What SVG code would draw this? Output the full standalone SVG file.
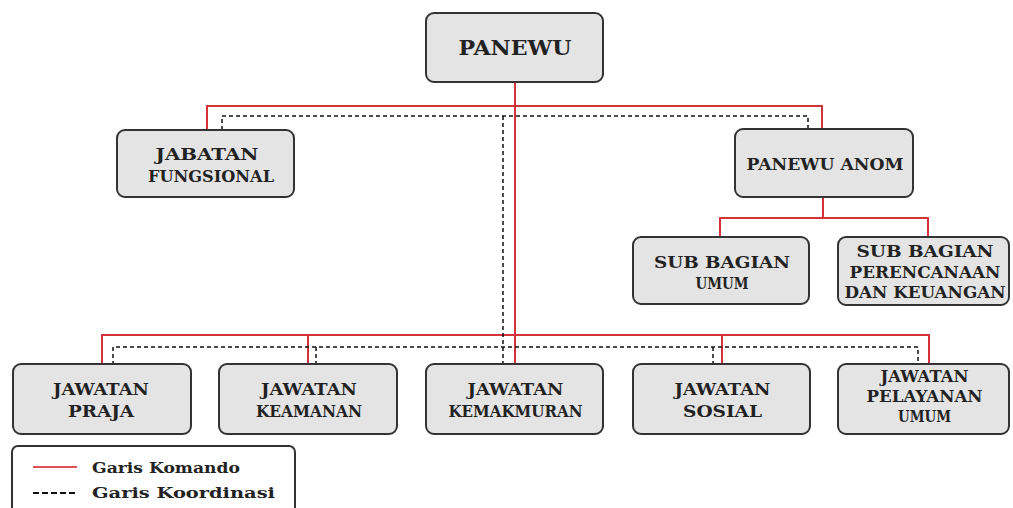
<svg xmlns="http://www.w3.org/2000/svg" width="1013" height="508" viewBox="0 0 1013 508">
<style>
.box{fill:#e4e4e4;stroke:#333;stroke-width:2}
.t{font-family:"DejaVu Serif","Liberation Serif",serif;font-weight:bold;font-size:16px;fill:#222;text-anchor:middle}
.big{font-family:"DejaVu Serif","Liberation Serif",serif;font-weight:bold;font-size:21px;fill:#222;text-anchor:middle}
.lg{font-family:"DejaVu Serif","Liberation Serif",serif;font-weight:bold;font-size:15px;fill:#222}
.cmd{stroke:#d3323b;stroke-width:2;fill:none}
.crd{stroke:#111;stroke-width:1.5;stroke-dasharray:4,3;fill:none}
</style>
<rect width="1013" height="508" fill="#fff"/>
<g id="connectors">
  <path class="cmd" d="M515 82V365M207 130V106H822V130M823 197V218M720 237V218H928V237M102 365V335H929V365M308 335V365M722 335V365"/>
  <path class="crd" d="M222 130V116H808V130M503 116V365M113 365V347H918V365M316 347V365M713 347V365"/>
</g>
<g id="panewu">
  <rect class="box" x="426" y="13" width="177" height="69" rx="8"/>
  <text class="big" x="515" y="55" textLength="113" lengthAdjust="spacingAndGlyphs">PANEWU</text>
</g>
<g id="jabatan-fungsional">
  <rect class="box" x="117" y="130" width="177" height="67" rx="8"/>
  <text class="t" x="207" y="160" textLength="103" lengthAdjust="spacingAndGlyphs">JABATAN</text>
  <text class="t" x="211" y="182" textLength="126" lengthAdjust="spacingAndGlyphs">FUNGSIONAL</text>
</g>
<g id="panewu-anom">
  <rect class="box" x="735" y="129" width="178" height="68" rx="8"/>
  <text class="t" x="825" y="170" textLength="157" lengthAdjust="spacingAndGlyphs">PANEWU  ANOM</text>
</g>
<g id="sub-bagian-umum">
  <rect class="box" x="633" y="237" width="176" height="67" rx="8"/>
  <text class="t" x="722" y="268" textLength="136" lengthAdjust="spacingAndGlyphs">SUB BAGIAN</text>
  <text class="t" x="722" y="289" textLength="53" lengthAdjust="spacingAndGlyphs">UMUM</text>
</g>
<g id="sub-bagian-perencanaan">
  <rect class="box" x="838" y="237" width="171" height="68" rx="8"/>
  <text class="t" x="925" y="257" textLength="137" lengthAdjust="spacingAndGlyphs">SUB BAGIAN</text>
  <text class="t" x="925" y="278" textLength="151" lengthAdjust="spacingAndGlyphs">PERENCANAAN</text>
  <text class="t" x="925" y="298" textLength="161" lengthAdjust="spacingAndGlyphs">DAN KEUANGAN</text>
</g>
<g id="jawatan-praja">
  <rect class="box" x="13" y="364" width="178" height="70" rx="8"/>
  <text class="t" x="101" y="395" textLength="96" lengthAdjust="spacingAndGlyphs">JAWATAN</text>
  <text class="t" x="101" y="417" textLength="66" lengthAdjust="spacingAndGlyphs">PRAJA</text>
</g>
<g id="jawatan-keamanan">
  <rect class="box" x="219" y="364" width="178" height="70" rx="8"/>
  <text class="t" x="309" y="395" textLength="96" lengthAdjust="spacingAndGlyphs">JAWATAN</text>
  <text class="t" x="309" y="417" textLength="106" lengthAdjust="spacingAndGlyphs">KEAMANAN</text>
</g>
<g id="jawatan-kemakmuran">
  <rect class="box" x="426" y="364" width="177" height="70" rx="8"/>
  <text class="t" x="515.5" y="395" textLength="96" lengthAdjust="spacingAndGlyphs">JAWATAN</text>
  <text class="t" x="515.5" y="417" textLength="134" lengthAdjust="spacingAndGlyphs">KEMAKMURAN</text>
</g>
<g id="jawatan-sosial">
  <rect class="box" x="633" y="364" width="177" height="70" rx="8"/>
  <text class="t" x="722.5" y="395" textLength="96" lengthAdjust="spacingAndGlyphs">JAWATAN</text>
  <text class="t" x="722.5" y="417" textLength="79" lengthAdjust="spacingAndGlyphs">SOSIAL</text>
</g>
<g id="jawatan-pelayanan-umum">
  <rect class="box" x="838" y="364" width="171" height="70" rx="8"/>
  <text class="t" x="924.5" y="382" textLength="88" lengthAdjust="spacingAndGlyphs">JAWATAN</text>
  <text class="t" x="924.5" y="402" textLength="116" lengthAdjust="spacingAndGlyphs">PELAYANAN</text>
  <text class="t" x="924.5" y="422" textLength="53" lengthAdjust="spacingAndGlyphs">UMUM</text>
</g>
<g id="legend">
  <rect class="box" x="12" y="446" width="283" height="72" rx="6" style="fill:#fff"/>
  <line x1="33" y1="467" x2="77" y2="467" stroke="#e0525a" stroke-width="2"/>
  <line x1="33" y1="493" x2="78" y2="493" stroke="#111" stroke-width="2" stroke-dasharray="6,3"/>
  <text class="lg" x="92" y="473" textLength="148" lengthAdjust="spacingAndGlyphs">Garis Komando</text>
  <text class="lg" x="92" y="498" textLength="183" lengthAdjust="spacingAndGlyphs">Garis Koordinasi</text>
</g>
</svg>
